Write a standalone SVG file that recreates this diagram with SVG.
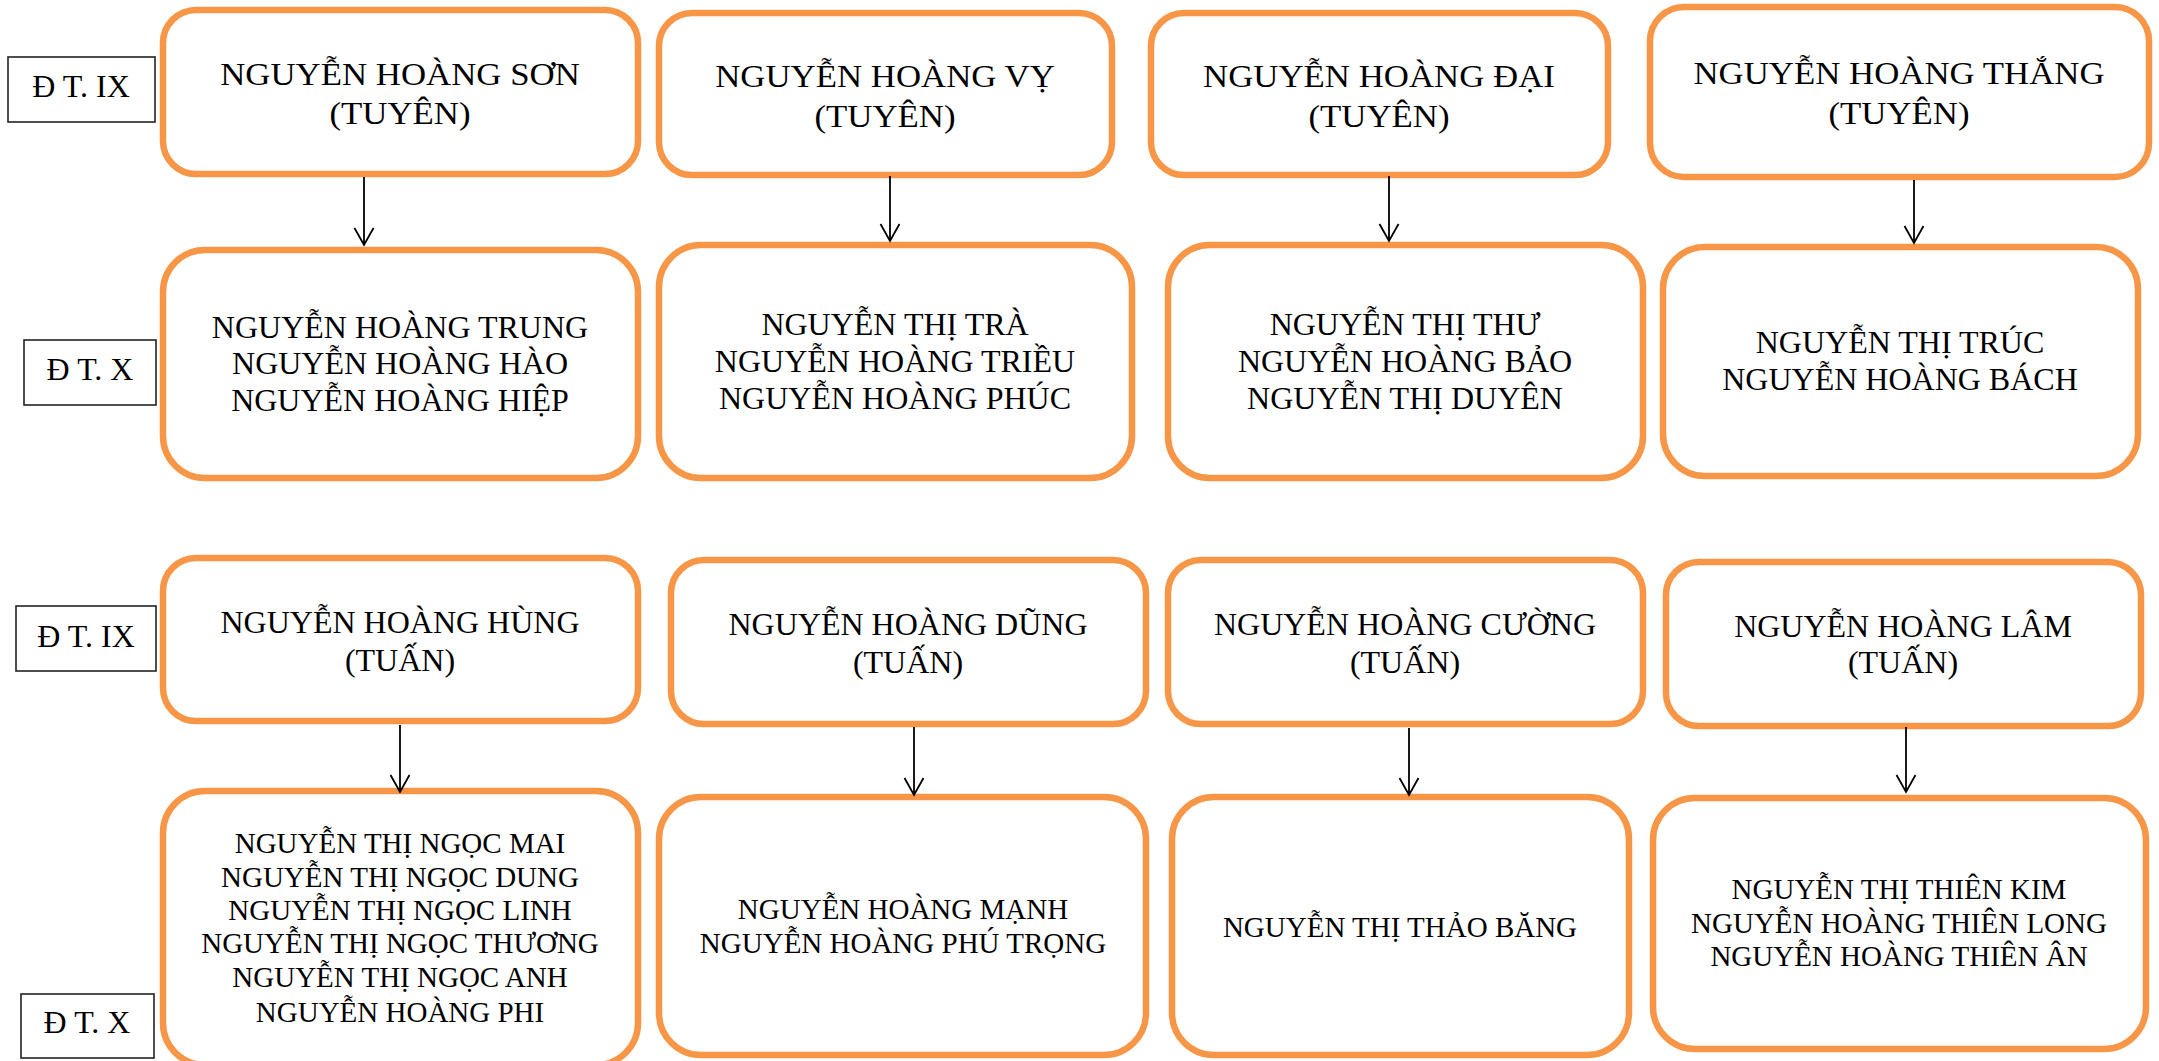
<svg xmlns="http://www.w3.org/2000/svg" width="2159" height="1061" viewBox="0 0 2159 1061">
<style>
.box{fill:#fff;stroke:#F79646;stroke-width:6.5}
.lab{fill:#fff;stroke:#222;stroke-width:1.6}
text{font-family:"Liberation Serif","Times New Roman",serif;fill:#000;text-anchor:middle}
.t32{font-size:32px}
.t29{font-size:29px}
.con{stroke:#000;stroke-width:1.8;fill:none}
</style>
<defs>
<marker id="arr" markerUnits="userSpaceOnUse" viewBox="0 0 20 22" refX="18" refY="11" markerWidth="20" markerHeight="22" orient="auto">
<path d="M1,1.5 L18,11 L1,20.5" fill="none" stroke="#000" stroke-width="1.8"/>
</marker>
</defs>
<rect width="2159" height="1061" fill="#fff"/>

<g id="labels">
<g id="lab-ix-1"><rect class="lab" x="8" y="57" width="147" height="65"/><text class="t32" x="81" y="97">Đ T. IX</text></g>
<g id="lab-x-1"><rect class="lab" x="24" y="340" width="132" height="65"/><text class="t32" x="90" y="380">Đ T. X</text></g>
<g id="lab-ix-2"><rect class="lab" x="16" y="606" width="140" height="65"/><text class="t32" x="86" y="647">Đ T. IX</text></g>
<g id="lab-x-2"><rect class="lab" x="21" y="994" width="133" height="64"/><text class="t32" x="87" y="1033">Đ T. X</text></g>
</g>

<g id="son"><rect class="box" x="163" y="10" width="475" height="164" rx="33"/><g transform="matrix(1.088 0 0 1 -35.2 0)"><text class="t32" x="400" y="85">NGUYỄN HOÀNG SƠN</text><text class="t32" x="400" y="124">(TUYÊN)</text></g></g>
<g id="vy"><rect class="box" x="659" y="13" width="453" height="162" rx="33"/><g transform="matrix(1.088 0 0 1 -77.88 0)"><text class="t32" x="885" y="87">NGUYỄN HOÀNG VỴ</text><text class="t32" x="885" y="127">(TUYÊN)</text></g></g>
<g id="dai"><rect class="box" x="1151" y="13" width="457" height="162" rx="33"/><g transform="matrix(1.088 0 0 1 -121.35 0)"><text class="t32" x="1379" y="87">NGUYỄN HOÀNG ĐẠI</text><text class="t32" x="1379" y="127">(TUYÊN)</text></g></g>
<g id="thang"><rect class="box" x="1650" y="7" width="499" height="170" rx="34"/><g transform="matrix(1.088 0 0 1 -167.11 0)"><text class="t32" x="1899" y="84">NGUYỄN HOÀNG THẮNG</text><text class="t32" x="1899" y="124">(TUYÊN)</text></g></g>

<g id="trung"><rect class="box" x="163" y="250" width="475" height="228" rx="42"/><text class="t32" x="400" y="338">NGUYỄN HOÀNG TRUNG</text><text class="t32" x="400" y="374">NGUYỄN HOÀNG HÀO</text><text class="t32" x="400" y="411">NGUYỄN HOÀNG HIỆP</text></g>
<g id="tra"><rect class="box" x="659" y="245" width="473" height="233" rx="42"/><text class="t32" x="895" y="335">NGUYỄN THỊ TRÀ</text><text class="t32" x="895" y="372">NGUYỄN HOÀNG TRIỀU</text><text class="t32" x="895" y="409">NGUYỄN HOÀNG PHÚC</text></g>
<g id="thu"><rect class="box" x="1168" y="245" width="475" height="233" rx="42"/><text class="t32" x="1405" y="335">NGUYỄN THỊ THƯ</text><text class="t32" x="1405" y="372">NGUYỄN HOÀNG BẢO</text><text class="t32" x="1405" y="409">NGUYỄN THỊ DUYÊN</text></g>
<g id="truc"><rect class="box" x="1663" y="247" width="475" height="229" rx="42"/><text class="t32" x="1900" y="353">NGUYỄN THỊ TRÚC</text><text class="t32" x="1900" y="390">NGUYỄN HOÀNG BÁCH</text></g>

<g id="hung"><rect class="box" x="163" y="558" width="475" height="163" rx="33"/><text class="t32" x="400" y="633">NGUYỄN HOÀNG HÙNG</text><text class="t32" x="400" y="671">(TUẤN)</text></g>
<g id="dung"><rect class="box" x="671" y="560" width="475" height="164" rx="33"/><text class="t32" x="908" y="635">NGUYỄN HOÀNG DŨNG</text><text class="t32" x="908" y="673">(TUẤN)</text></g>
<g id="cuong"><rect class="box" x="1168" y="560" width="475" height="164" rx="33"/><text class="t32" x="1405" y="635">NGUYỄN HOÀNG CƯỜNG</text><text class="t32" x="1405" y="673">(TUẤN)</text></g>
<g id="lam"><rect class="box" x="1666" y="562" width="475" height="164" rx="33"/><text class="t32" x="1903" y="637">NGUYỄN HOÀNG LÂM</text><text class="t32" x="1903" y="673">(TUẤN)</text></g>

<g id="mai"><rect class="box" x="163" y="791" width="475" height="274" rx="42"/><text class="t29" x="400" y="853">NGUYỄN THỊ NGỌC MAI</text><text class="t29" x="400" y="887">NGUYỄN THỊ NGỌC DUNG</text><text class="t29" x="400" y="920">NGUYỄN THỊ NGỌC LINH</text><text class="t29" x="400" y="953">NGUYỄN THỊ NGỌC THƯƠNG</text><text class="t29" x="400" y="987">NGUYỄN THỊ NGỌC ANH</text><text class="t29" x="400" y="1022">NGUYỄN HOÀNG PHI</text></g>
<g id="manh"><rect class="box" x="659" y="797" width="487" height="258" rx="42"/><text class="t29" x="903" y="919">NGUYỄN HOÀNG MẠNH</text><text class="t29" x="903" y="953">NGUYỄN HOÀNG PHÚ TRỌNG</text></g>
<g id="bang"><rect class="box" x="1172" y="797" width="457" height="258" rx="42"/><text class="t29" x="1400" y="937">NGUYỄN THỊ THẢO BĂNG</text></g>
<g id="kim"><rect class="box" x="1653" y="798" width="493" height="251" rx="42"/><text class="t29" x="1899" y="899">NGUYỄN THỊ THIÊN KIM</text><text class="t29" x="1899" y="933">NGUYỄN HOÀNG THIÊN LONG</text><text class="t29" x="1899" y="966">NGUYỄN HOÀNG THIÊN ÂN</text></g>

<g id="connectors">
<line class="con" x1="364" y1="177" x2="364" y2="245" marker-end="url(#arr)"/>
<line class="con" x1="890" y1="176" x2="890" y2="241" marker-end="url(#arr)"/>
<line class="con" x1="1389" y1="176" x2="1389" y2="241" marker-end="url(#arr)"/>
<line class="con" x1="1914" y1="180" x2="1914" y2="243" marker-end="url(#arr)"/>
<line class="con" x1="400" y1="725" x2="400" y2="792" marker-end="url(#arr)"/>
<line class="con" x1="914" y1="727" x2="914" y2="795" marker-end="url(#arr)"/>
<line class="con" x1="1409" y1="728" x2="1409" y2="795" marker-end="url(#arr)"/>
<line class="con" x1="1906" y1="727" x2="1906" y2="792" marker-end="url(#arr)"/>
</g>
</svg>
